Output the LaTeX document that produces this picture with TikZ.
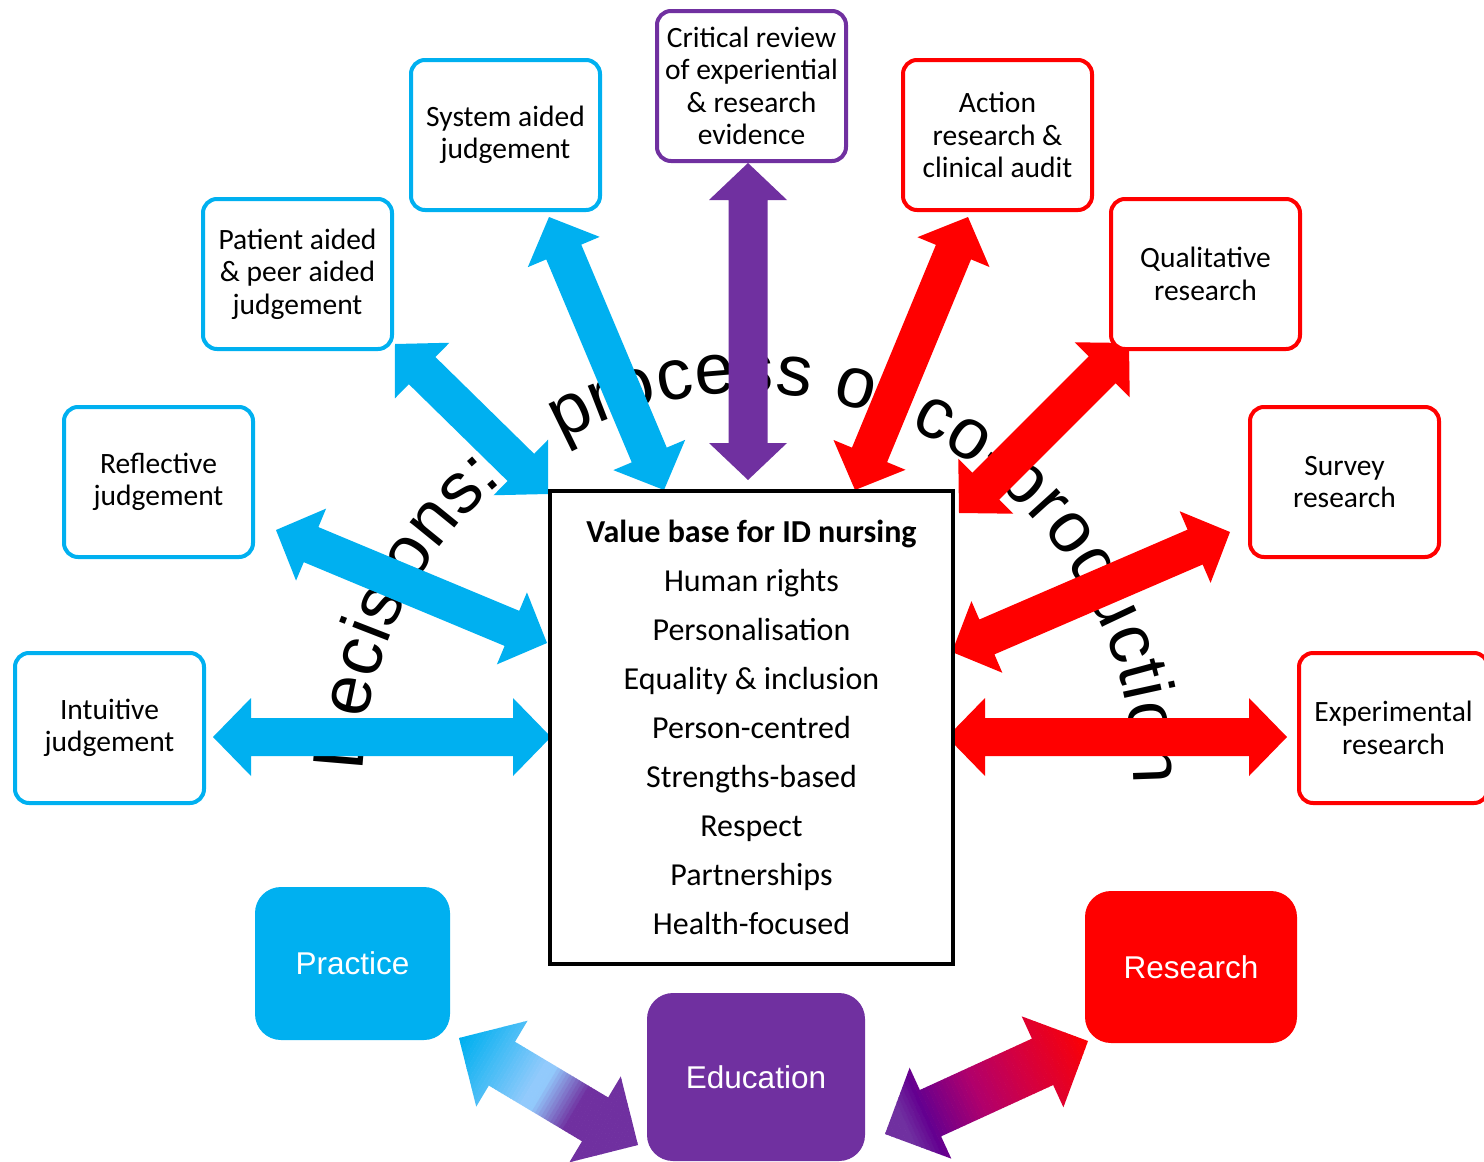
\documentclass[tikz,border=0pt]{standalone}
\usepackage{fontspec}
\setmainfont{Carlito}
\newfontfamily\arialfont{Liberation Sans}
\usetikzlibrary{calc,decorations.text}

\definecolor{pcyan}{HTML}{00B0F0}
\definecolor{pred}{HTML}{FF0000}
\definecolor{ppurple}{HTML}{7030A0}
\definecolor{plight}{RGB}{146,202,252}
\definecolor{pviolet}{HTML}{640090}
\definecolor{pmagenta}{HTML}{B0006C}
\definecolor{pcrimson}{HTML}{D20043}
\definecolor{pscarlet}{HTML}{EE0018}

% outline of a double-headed block arrow: ends, head length, head half-width, shaft half-width
\newcommand\arrowoutline[5]{(#1) -- ($(#1)!#3!(#2)!#4!90:(#2)$) -- ($(#1)!#3!(#2)!#5!90:(#2)$) -- ($(#2)!#3!(#1)!#5!-90:(#1)$) -- ($(#2)!#3!(#1)!#4!-90:(#1)$) -- (#2) -- ($(#2)!#3!(#1)!#4!90:(#1)$) -- ($(#2)!#3!(#1)!#5!90:(#1)$) -- ($(#1)!#3!(#2)!#5!-90:(#2)$) -- ($(#1)!#3!(#2)!#4!-90:(#2)$) -- cycle}

% colour ramps for the two shaded arrows (t runs from the first end to the second)
\newcommand\pickpe[1]{%
  \pgfmathsetmacro\gradT{#1}%
  \ifdim\gradT pt<0.02pt \colorlet{stripc}{pcyan}%
  \else\ifdim\gradT pt<0.42pt \pgfmathsetmacro\gradP{(\gradT-0.02)/0.40*100}\colorlet{stripc}{plight!\gradP!pcyan}%
  \else\ifdim\gradT pt<0.47pt \colorlet{stripc}{plight}%
  \else\ifdim\gradT pt<0.66pt \pgfmathsetmacro\gradP{(\gradT-0.47)/0.19*100}\colorlet{stripc}{ppurple!\gradP!plight}%
  \else\colorlet{stripc}{ppurple}\fi\fi\fi\fi}
\newcommand\picker[1]{%
  \pgfmathsetmacro\gradT{#1}%
  \ifdim\gradT pt<0.10pt \colorlet{stripc}{ppurple}%
  \else\ifdim\gradT pt<0.20pt \pgfmathsetmacro\gradP{(\gradT-0.10)/0.10*100}\colorlet{stripc}{pviolet!\gradP!ppurple}%
  \else\ifdim\gradT pt<0.45pt \pgfmathsetmacro\gradP{(\gradT-0.20)/0.25*100}\colorlet{stripc}{pmagenta!\gradP!pviolet}%
  \else\ifdim\gradT pt<0.67pt \pgfmathsetmacro\gradP{(\gradT-0.45)/0.22*100}\colorlet{stripc}{pcrimson!\gradP!pmagenta}%
  \else\ifdim\gradT pt<0.90pt \pgfmathsetmacro\gradP{(\gradT-0.67)/0.23*100}\colorlet{stripc}{pscarlet!\gradP!pcrimson}%
  \else\ifdim\gradT pt<1.0pt \pgfmathsetmacro\gradP{(\gradT-0.90)/0.10*100}\colorlet{stripc}{pred!\gradP!pscarlet}%
  \else\colorlet{stripc}{pred}\fi\fi\fi\fi\fi\fi}

% shaded double arrow built from thin cross strips
\newcommand\gradarrow[3]{%
  \begin{scope}
    \clip \arrowoutline{#1}{#2}{50pt}{50pt}{25.5pt};
    \coordinate (gfar) at ($(#1)!4!(#2)$);
    \foreach \i in {0,...,63}{
      \pgfmathsetmacro\ta{-0.03+\i*0.017}
      \pgfmathsetmacro\tb{\ta+0.019}
      \pgfmathsetmacro\tm{\ta+0.0085}
      #3{\tm}
      \fill[stripc] ($(#1)!\ta!(#2)!60pt!90:(gfar)$) -- ($(#1)!\tb!(#2)!60pt!90:(gfar)$)
        -- ($(#1)!\tb!(#2)!60pt!-90:(gfar)$) -- ($(#1)!\ta!(#2)!60pt!-90:(gfar)$) -- cycle;
    }
  \end{scope}}

\tikzset{
  methodbox/.style={draw, line width=4pt, rounded corners=14pt, fill=white,
    minimum width=189pt, minimum height=150pt, align=center, inner sep=0pt,
    font=\fontsize{29.5}{32.5}\selectfont},
  areabox/.style={rounded corners=26pt, text=white, inner sep=0pt,
    font=\arialfont\fontsize{31.5}{38}\selectfont},
  corebox/.style={draw=black, line width=4pt, fill=white, minimum width=403pt,
    minimum height=473pt, align=center, inner sep=0pt,
    font=\fontsize{32}{49}\selectfont},
  cyanarrow/.style={fill=pcyan},
  redarrow/.style={fill=pred},
  purplearrow/.style={fill=ppurple},
  archtext/.style={decorate, decoration={text along path,
    text={|\arialfont\fontsize{72}{86}\selectfont|#1}, text align={fit to path}}},
}

\begin{document}
\begin{tikzpicture}[x=1pt,y=-1pt]
\useasboundingbox[fill=white] (0,0) rectangle (1484,1162);

% arched title behind the arrows
\path[archtext={Decisions:}]
  ($(748,778)+(181:385)$) arc[start angle=181, end angle=230, radius=385];
\path[archtext={process of co-production}]
  ($(748,778)+(241:385)$) arc[start angle=241, end angle=361, radius=385];

% arrow end points
\coordinate (critical-end) at (748,163);   \coordinate (core-critical) at (748,480);
\coordinate (system-end) at (549,217);     \coordinate (core-system) at (664,490);
\coordinate (patient-end) at (395,344);    \coordinate (core-patient) at (548,494);
\coordinate (reflective-end) at (276,530); \coordinate (core-reflective) at (547,643);
\coordinate (intuitive-end) at (213,737);  \coordinate (core-intuitive) at (551,737);
\coordinate (action-end) at (968,217);     \coordinate (core-action) at (855,490);
\coordinate (qualitative-end) at (1129,343); \coordinate (core-qualitative) at (959,513);
\coordinate (survey-end) at (1230,532);    \coordinate (core-survey) at (952,652);
\coordinate (experimental-end) at (1287,737); \coordinate (core-experimental) at (947,737);
\coordinate (practice-end) at (459,1038);  \coordinate (education-left) at (638,1145);
\coordinate (education-right) at (885,1134); \coordinate (research-end) at (1088,1041);

% arrows
\fill[purplearrow] \arrowoutline{critical-end}{core-critical}{37pt}{39pt}{19.5pt};
\fill[cyanarrow] \arrowoutline{system-end}{core-system}{38pt}{39pt}{19pt};
\fill[cyanarrow] \arrowoutline{patient-end}{core-patient}{38pt}{39pt}{19pt};
\fill[cyanarrow] \arrowoutline{reflective-end}{core-reflective}{38pt}{39pt}{19pt};
\fill[cyanarrow] \arrowoutline{intuitive-end}{core-intuitive}{38pt}{39pt}{19pt};
\fill[redarrow] \arrowoutline{action-end}{core-action}{38pt}{39pt}{19pt};
\fill[redarrow] \arrowoutline{qualitative-end}{core-qualitative}{38pt}{39pt}{19pt};
\fill[redarrow] \arrowoutline{survey-end}{core-survey}{38pt}{39pt}{19pt};
\fill[redarrow] \arrowoutline{experimental-end}{core-experimental}{38pt}{39pt}{19pt};
\gradarrow{practice-end}{education-left}{\pickpe}
\gradarrow{education-right}{research-end}{\picker}

% central value base
\node[corebox] (core) at (751.5,727.5) {\textbf{Value base for ID nursing}\\Human rights\\Personalisation\\Equality \& inclusion\\Person-centred\\Strengths-based\\Respect\\Partnerships\\Health-focused};

% decision method boxes
\node[methodbox, draw=ppurple] (critical) at (751.5,86) {Critical review\\of experiential\\\& research\\evidence};
\node[methodbox, draw=pcyan] (system) at (505.5,135) {System aided\\judgement};
\node[methodbox, draw=pcyan] (patient) at (297.5,274) {Patient aided\\\& peer aided\\judgement};
\node[methodbox, draw=pcyan] (reflective) at (158.5,482) {Reflective\\judgement};
\node[methodbox, draw=pcyan] (intuitive) at (109.5,728) {Intuitive\\judgement};
\node[methodbox, draw=pred] (action) at (997.5,135) {Action\\research \&\\clinical audit};
\node[methodbox, draw=pred] (qualitative) at (1205.5,274) {Qualitative\\research};
\node[methodbox, draw=pred] (survey) at (1344.5,482) {Survey\\research};
\node[methodbox, draw=pred] (experimental) at (1393.5,728) {Experimental\\research};

% practice, education and research
\node[areabox, fill=pcyan, minimum width=195pt, minimum height=153pt] (practice) at (352.5,963.5) {Practice};
\node[areabox, fill=ppurple, minimum width=218pt, minimum height=168pt] (education) at (756,1077) {Education};
\node[areabox, fill=pred, minimum width=212pt, minimum height=152pt] (research) at (1191,967) {Research};
\end{tikzpicture}
\end{document}
